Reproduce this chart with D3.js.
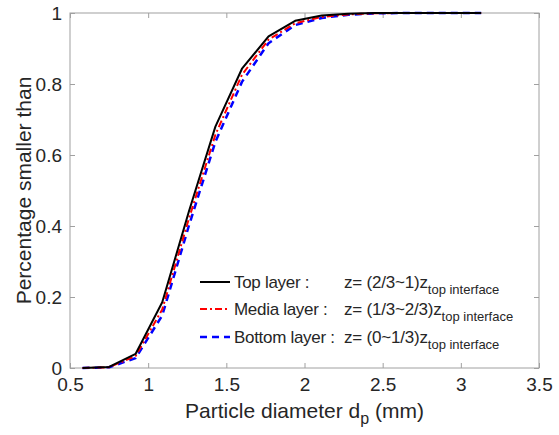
<!DOCTYPE html>
<html><head><meta charset="utf-8">
<script src="https://cdn.jsdelivr.net/npm/d3@7"></script>
<style>body{margin:0;background:#fff}svg{display:block;font-family:"Liberation Sans",Arial,Helvetica,sans-serif}</style>
</head><body><svg id="c" width="559" height="435"></svg>
<script>
const diameters = [0.58,0.75,0.92,1.09,1.26,1.43,1.60,1.77,1.94,2.11,2.28,2.45,2.62,2.79,2.96,3.13];
const topLayer    = [0,0.003,0.040,0.185,0.440,0.680,0.843,0.934,0.978,0.993,0.998,1,1,1,1,1];
const mediaLayer  = [0,0.002,0.034,0.165,0.420,0.657,0.826,0.925,0.971,0.989,0.996,0.999,1,1,1,1];
const bottomLayer = [0,0.002,0.028,0.148,0.400,0.637,0.806,0.915,0.966,0.986,0.995,0.999,1,1,1,1];
const xTicks = [0.5,1,1.5,2,2.5,3,3.5];
const yTicks = [0,0.2,0.4,0.6,0.8,1];
const legendNames = ["Top layer :","Media layer :","Bottom layer :"];
const legendZ = ["z= (2/3~1)z","z= (1/3~2/3)z","z= (0~1/3)z"];
const legendSub = "top interface";

const svg = d3.select("#c");
const L=70,R=539,T=13,B=368;
const x = d3.scaleLinear().domain([0.5,3.5]).range([L,R]);
const y = d3.scaleLinear().domain([0,1]).range([B,T]);
const axisCol="#a0a0a0";
const textCol="#262626";

svg.append("rect").attr("x",L).attr("y",T).attr("width",R-L).attr("height",B-T)
  .attr("fill","none").attr("stroke",axisCol).attr("stroke-width",1);

function styleAxis(g){g.select(".domain").remove();g.selectAll("line").attr("stroke",axisCol);
  g.selectAll("text").attr("fill",textCol).attr("font-size",19);}
svg.append("g").attr("transform",`translate(0,${B})`)
  .call(d3.axisBottom(x).tickValues(xTicks).tickSizeInner(-5).tickSizeOuter(0).tickPadding(10).tickFormat(d3.format("")))
  .call(styleAxis);
svg.append("g").attr("transform",`translate(0,${T})`)
  .call(d3.axisTop(x).tickValues(xTicks).tickSizeInner(-5).tickSizeOuter(0).tickFormat(""))
  .call(styleAxis);
svg.append("g").attr("transform",`translate(${L},0)`)
  .call(d3.axisLeft(y).tickValues(yTicks).tickSizeInner(-5).tickSizeOuter(0).tickPadding(8).tickFormat(d3.format("")))
  .call(styleAxis);
svg.append("g").attr("transform",`translate(${R},0)`)
  .call(d3.axisRight(y).tickValues(yTicks).tickSizeInner(-5).tickSizeOuter(0).tickFormat(""))
  .call(styleAxis);

const xl = svg.append("text").attr("x",(L+R)/2).attr("y",418).attr("text-anchor","middle")
  .attr("font-size",21).attr("fill",textCol);
xl.append("tspan").text("Particle diameter d");
xl.append("tspan").attr("dy",6).attr("font-size",16).text("p");
xl.append("tspan").attr("dy",-6).text(" (mm)");
svg.append("text").attr("transform",`translate(31,${(T+B)/2}) rotate(-90)`).attr("text-anchor","middle")
  .attr("font-size",21).attr("fill",textCol).text("Percentage smaller than");

const series=[
 {v:topLayer,c:"#000",d:null,w:2},
 {v:mediaLayer,c:"#ff0000",d:"7,3,2,3",w:2},
 {v:bottomLayer,c:"#0000ff",d:"7,5",w:2.5}
];
const line=d3.line().x(d=>x(d[0])).y(d=>y(d[1]));
series.slice().reverse().forEach(s=>{
  svg.append("path").datum(diameters.map((d,i)=>[d,s.v[i]]))
   .attr("d",line).attr("fill","none").attr("stroke",s.c).attr("stroke-width",s.w)
   .attr("stroke-dasharray",s.d).attr("stroke-linejoin","round");
});
const ly=[282,309,337];
series.forEach((s,i)=>{
  svg.append("line").attr("x1",200).attr("x2",230).attr("y1",ly[i]).attr("y2",ly[i])
    .attr("stroke",s.c).attr("stroke-width",s.w).attr("stroke-dasharray",s.d);
  svg.append("text").attr("x",234).attr("y",ly[i]+6).attr("font-size",17).attr("letter-spacing",-0.3)
    .attr("fill",textCol).text(legendNames[i]);
  const t=svg.append("text").attr("x",344).attr("y",ly[i]+6).attr("font-size",17).attr("letter-spacing",-0.2).attr("fill",textCol);
  t.append("tspan").text(legendZ[i]);
  t.append("tspan").attr("dy",6).attr("font-size",13).attr("letter-spacing",0).text(legendSub);
});
</script></body></html>
